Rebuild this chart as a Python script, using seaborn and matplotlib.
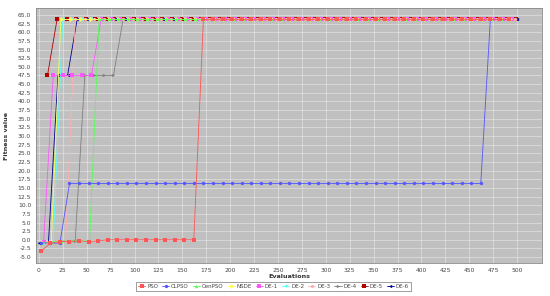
import matplotlib
matplotlib.use("Agg")
import matplotlib.pyplot as plt
import seaborn as sns
import numpy as np

# ---------------- data ----------------
series_names = ["PSO", "CLPSO", "CenPSO", "NSDE", "DE-1", "DE-2", "DE-3", "DE-4", "DE-5", "DE-6"]

pso_x = list(range(2, 502, 10))
pso_y = [-3.3, -1.0, -0.5, -0.5, -0.3, -0.5, -0.3, 0.0, 0.0, 0.0, 0.0, 0.0, 0.0, 0.0, 0.0, 0.0, 0.0] + [63.7] * 33

clpso_x = list(range(2, 502, 10))
clpso_y = [-0.9, -0.9, -1.0] + [16.3] * 44 + [63.7] * 3

cenpso_x = list(range(3, 503, 10))
cenpso_y = [-0.9, -0.6, -0.4, -0.3, -0.3, -0.3] + [63.7] * 44

nsde_x = list(range(3, 503, 10))
nsde_y = [-0.9, -0.5] + [63.7] * 48

de1_x = list(range(5, 505, 10))
de1_y = [-0.5, 47.5, 47.5, 47.5, 47.5, 47.5] + [63.7] * 44

de2_x = list(range(5, 505, 10))
de2_y = [-0.9, -0.6] + [63.7] * 48

de3_x = list(range(8, 508, 10))
de3_y = [-0.5, -0.3, -0.3] + [63.7] * 47

de4_x = list(range(8, 508, 10))
de4_y = [-0.5, -0.4, -0.3, -0.3, 47.5, 47.5, 47.5, 47.5] + [63.7] * 42

de5_x = list(range(9, 509, 10))
de5_y = [47.5] + [63.7] * 49

de6_x = list(range(0, 510, 10))
de6_y = [-0.9, -0.9, 47.5, 47.5] + [63.7] * 47

xs = [pso_x, clpso_x, cenpso_x, nsde_x, de1_x, de2_x, de3_x, de4_x, de5_x, de6_x]
ys = [pso_y, clpso_y, cenpso_y, nsde_y, de1_y, de2_y, de3_y, de4_y, de5_y, de6_y]

x_ticks = list(range(0, 525, 25))
y_ticks = [v / 10 for v in range(-50, 675, 25)]

# ---------------- style ----------------
colors = ["#FF5555", "#5555FF", "#55FF55", "#FFFF55", "#FF55FF",
          "#55FFFF", "#FFAFAF", "#808080", "#B00000", "#000090"]
markers = ["s", "o", "^", "D", "s", "v", "o", ">", "s", "<"]

sns.set_style("white")
plt.rcParams["font.family"] = ["DejaVu Sans"]

fig = plt.figure(figsize=(5.5, 2.96), dpi=100)
W, H = 550, 296
ax = fig.add_axes([36 / W, 1 - 263 / H, (542 - 36) / W, (263 - 8) / H])
ax.set_facecolor("#C0C0C0")

n = len(series_names)
for i, (name, x, y) in enumerate(zip(series_names, xs, ys)):
    sns.lineplot(x=x, y=y, ax=ax, color=colors[i], marker=markers[i],
                 markersize=2.4, markeredgewidth=0, linewidth=0.6,
                 label=name, zorder=10 + (n - i), estimator=None, sort=False)

ax.set_xlim(-3, 526)
ax.set_ylim(-6.7, 67.0)
ax.set_xticks(x_ticks)
ax.set_yticks(y_ticks)
ax.set_xticklabels([str(t) for t in x_ticks])
ax.set_yticklabels(["%.1f" % t for t in y_ticks])
ax.tick_params(axis="both", labelsize=4.3, colors="#555555", length=2, width=0.4, pad=1.5)
ax.tick_params(axis="both", labelcolor="#444444")
ax.grid(True, color="#E8E8E8", linewidth=0.4)
ax.set_axisbelow(True)
for s in ax.spines.values():
    s.set_color("#888888")
    s.set_linewidth(0.6)

ax.set_xlabel("")
ax.set_ylabel("")
fig.text(289 / W, 1 - 276 / H, "Evaluations", ha="center", va="center",
         fontsize=4.6, fontweight="bold", color="#333333")
fig.text(7 / W, 1 - 136 / H, "Fitness value", ha="center", va="center",
         rotation=90, fontsize=4.6, fontweight="bold", color="#333333")

ax.get_legend().remove()
handles, labels = ax.get_legend_handles_labels()
leg = fig.legend(handles, labels, loc="center", bbox_to_anchor=(273.5 / W, 1 - 286.5 / H),
                 ncol=10, fontsize=4.0, frameon=True, fancybox=False,
                 handlelength=1.3, handletextpad=0.35, columnspacing=0.7,
                 borderpad=0.35, markerscale=1.0)
leg.get_frame().set_edgecolor("#555555")
leg.get_frame().set_linewidth(0.5)
for t in leg.get_texts():
    t.set_color("#444444")

fig.savefig("out.png", dpi=100, facecolor="white")
